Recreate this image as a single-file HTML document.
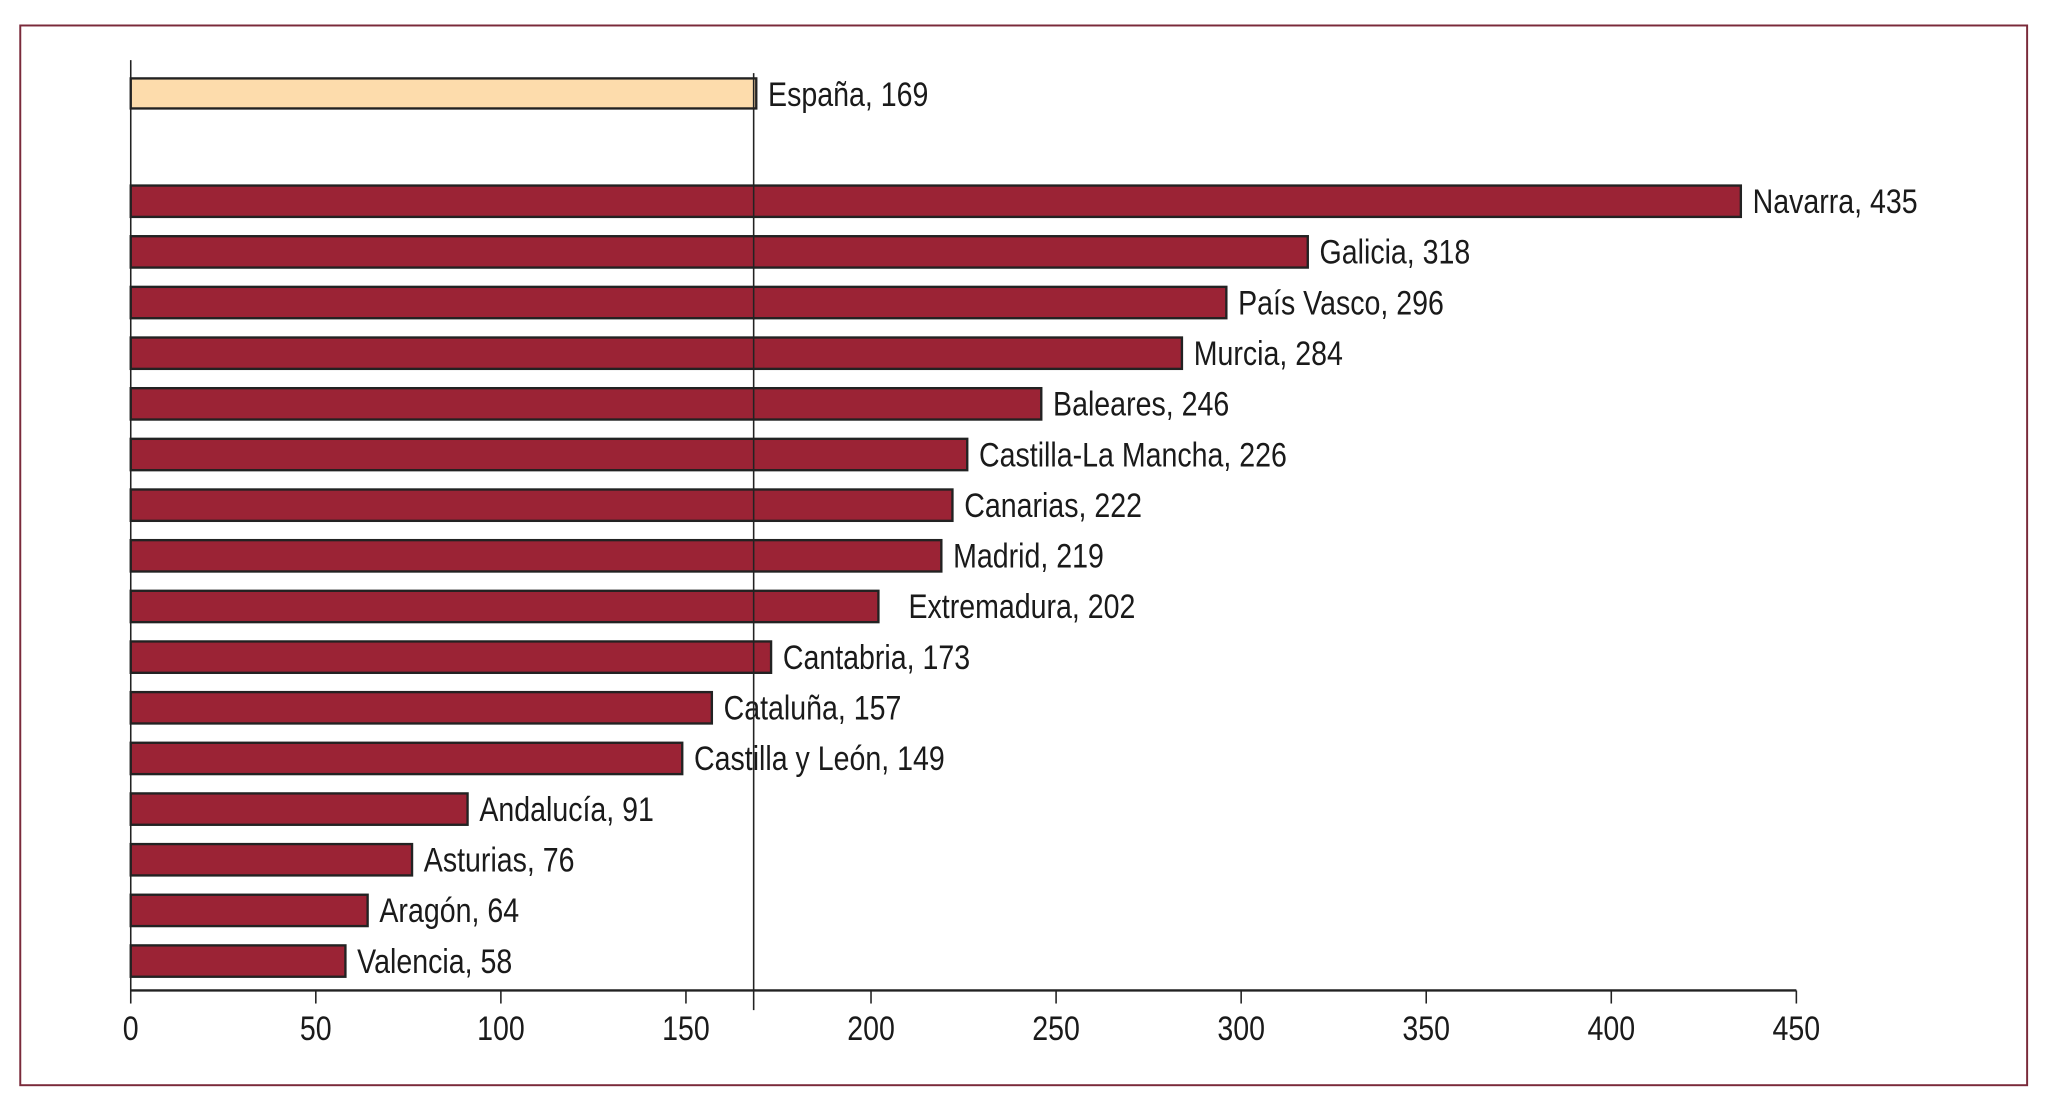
<!DOCTYPE html>
<html><head><meta charset="utf-8"><style>
html,body{margin:0;padding:0;background:#fff;}
svg{display:block;}
text{font-family:"Liberation Sans Narrow","Liberation Sans",sans-serif;fill:#1a1a1a;}
</style></head><body>
<svg id="chart" width="2050" height="1095" viewBox="0 0 1568 838" preserveAspectRatio="none" xmlns="http://www.w3.org/2000/svg">
<rect x="15.5" y="19.5" width="1535" height="811" fill="none" stroke="#7a2a3a" stroke-width="1.5"/>
</svg>
<script>
const categories = ["Navarra","Galicia","País Vasco","Murcia","Baleares","Castilla-La Mancha","Canarias","Madrid","Extremadura","Cantabria","Cataluña","Castilla y León","Andalucía","Asturias","Aragón","Valencia"];
const values = [435,318,296,284,246,226,222,219,202,173,157,149,91,76,64,58];
const refLabel = "España";
const refValue = 169;
const ticks = [0,50,100,150,200,250,300,350,400,450];

const NS = "http://www.w3.org/2000/svg";
const svg = document.getElementById("chart");
const X0 = 100, X1 = 1374, XMAX = 450;
const x = v => X0 + (v / XMAX) * (X1 - X0);
const firstY = 154, lastY = 735.5;
const y = i => firstY + i * (lastY - firstY) / (categories.length - 1);
const BAR_H = 24;
function mk(tag, attrs){ const e = document.createElementNS(NS, tag); for (const k in attrs) e.setAttribute(k, attrs[k]); svg.appendChild(e); return e; }
function txt(tx, ty, anchor){ return mk("text", {x: 0, y: 0, "font-size": 26, "text-anchor": anchor || "start", transform: "translate(" + tx + "," + ty + ") scale(0.84,1)"}); }

let rb = mk("rect", {x: X0, y: 60, width: x(refValue) - X0, height: 23, fill: "#fddcac", stroke: "#222", "stroke-width": 1.8});


let rt = txt(x(refValue) + 9, 81);
rt.textContent = refLabel + ", " + refValue;



categories.forEach((c, i) => {
  const cy = y(i);
  const b = mk("rect", {x: X0, y: cy - BAR_H / 2, width: x(values[i]) - X0, height: BAR_H, fill: "#9b2335", stroke: "#222", "stroke-width": 1.8});
  
  
  const t = txt(x(values[i]) + (c === "Extremadura" ? 23 : 9), cy + 9);
  t.textContent = c + ", " + values[i];
  
  
});

let rl = mk("line", {x1: x(refValue) - 2, x2: x(refValue) - 2, y1: 56, y2: 773, stroke: "#222", "stroke-width": 1.2});



let ya = mk("line", {x1: X0, x2: X0, y1: 46, y2: 758, stroke: "#222", "stroke-width": 1.2});


let xa = mk("line", {x1: X0, x2: X1, y1: 758, y2: 758, stroke: "#222", "stroke-width": 1.8});


ticks.forEach(tv => {
  const tl = mk("line", {x1: x(tv), x2: x(tv), y1: 758, y2: 768, stroke: "#222", "stroke-width": 1.2});
  
  
  const tt = txt(x(tv), 796, "middle");
  tt.textContent = tv;
  
  
});
</script>
</body></html>
